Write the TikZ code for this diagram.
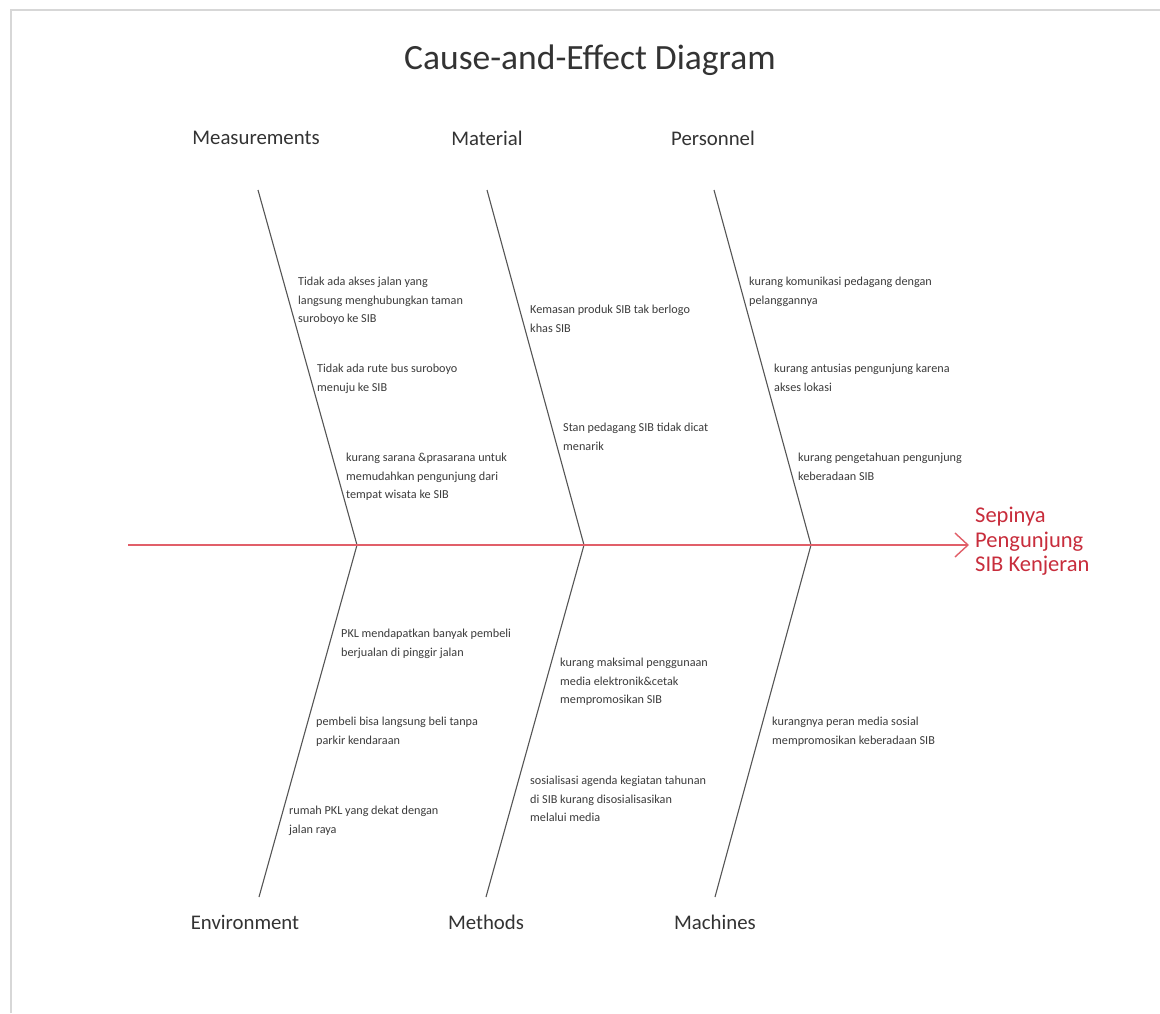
\documentclass[tikz,border=0pt]{standalone}
\usepackage{fontspec}
\setmainfont{Carlito}
\usetikzlibrary{arrows.meta}
\definecolor{effred}{RGB}{200,45,60}
\definecolor{spinered}{RGB}{225,95,105}
\definecolor{ribgray}{RGB}{85,85,85}
\definecolor{txtgray}{RGB}{60,60,60}
\definecolor{framegray}{RGB}{215,215,215}
\begin{document}
\begin{tikzpicture}[x=1pt,y=-1pt,
  cause/.style={anchor=north west,inner sep=0pt,align=left,text=txtgray,
    font=\fontsize{12.2}{18.5}\selectfont},
  cat/.style={inner sep=0pt,text=black!80,font=\fontsize{20.8}{24}\selectfont},
  rib/.style={draw=ribgray,line width=1.1pt},
  spine/.style={draw=spinered,line width=1.4pt,-{Straight Barb[length=13pt,width=24pt,line width=1.4pt]}}]
\useasboundingbox (0,0) rectangle (1160,1013);
\fill[white] (0,0) rectangle (1160,1013);
\draw[framegray,line width=1.5pt] (11,1013) -- (11,10) -- (1160,10);

\node[inner sep=0pt,text=black!80,font=\fontsize{35.5}{40}\selectfont] (title) at (590,60) {Cause-and-Effect Diagram};

% categories
\node[cat] (meas) at (256,138) {Measurements};
\node[cat] (mat) at (487,138) {Material};
\node[cat] (pers) at (713,138) {Personnel};
\node[cat] (env) at (245,922) {Environment};
\node[cat] (meth) at (486,922) {Methods};
\node[cat] (mach) at (715,922) {Machines};

% rib coordinates
\coordinate (t1) at (258,190);
\coordinate (t2) at (487,190);
\coordinate (t3) at (714,190);
\coordinate (j1) at (357,545);
\coordinate (j2) at (584,545);
\coordinate (j3) at (811,545);
\coordinate (b1) at (259,897);
\coordinate (b2) at (486,897);
\coordinate (b3) at (715,897);
\coordinate (sp) at (128,545);

\draw[rib] (t1) -- (j1) -- (b1);
\draw[rib] (t2) -- (j2) -- (b2);
\draw[rib] (t3) -- (j3) -- (b3);

\node[inner sep=0pt,anchor=north west,align=left,text=effred,font=\fontsize{22.5}{24.5}\selectfont] (effect) at (975,507) {Sepinya\\Pengunjung\\SIB Kenjeran};
\coordinate (tip) at (969,545);
\draw[spine] (sp) -- (tip);

% causes
\node[cause] (c1) at (298,277) {Tidak ada akses jalan yang\\langsung menghubungkan taman\\suroboyo ke SIB};
\node[cause] (c2) at (317,364) {Tidak ada rute bus suroboyo\\menuju ke SIB};
\node[cause] (c3) at (346,453) {kurang sarana \&prasarana untuk\\memudahkan pengunjung dari\\tempat wisata ke SIB};
\node[cause] (c4) at (530,305) {Kemasan produk SIB tak berlogo\\khas SIB};
\node[cause] (c5) at (563,423) {Stan pedagang SIB tidak dicat\\menarik};
\node[cause] (c6) at (749,277) {kurang komunikasi pedagang dengan\\pelanggannya};
\node[cause] (c7) at (774,364) {kurang antusias pengunjung karena\\akses lokasi};
\node[cause] (c8) at (798,453) {kurang pengetahuan pengunjung\\keberadaan SIB};
\node[cause] (c9) at (341,629) {PKL mendapatkan banyak pembeli\\berjualan di pinggir jalan};
\node[cause] (c10) at (316,717) {pembeli bisa langsung beli tanpa\\parkir kendaraan};
\node[cause] (c11) at (289,806) {rumah PKL yang dekat dengan\\jalan raya};
\node[cause] (c12) at (560,658) {kurang maksimal penggunaan\\media elektronik\&cetak\\mempromosikan SIB};
\node[cause] (c13) at (530,776) {sosialisasi agenda kegiatan tahunan\\di SIB kurang disosialisasikan\\melalui media};
\node[cause] (c14) at (772,717) {kurangnya peran media sosial\\mempromosikan keberadaan SIB};
\end{tikzpicture}
\end{document}
